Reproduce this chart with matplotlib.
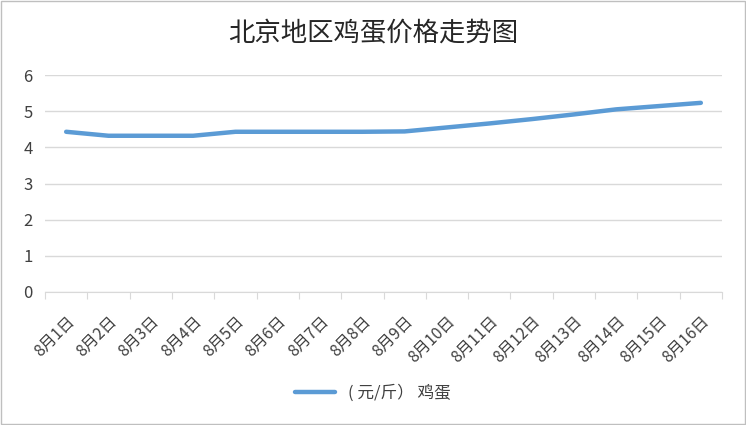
import matplotlib.pyplot as plt
import matplotlib.transforms as mtransforms
import numpy as np

plt.rcParams['font.family'] = ['Noto Sans CJK SC', 'DejaVu Sans']

days = ['8月%d日' % d for d in range(1, 17)]
prices = [4.43, 4.32, 4.32, 4.32, 4.43, 4.43, 4.43, 4.43,
          4.44, 4.55, 4.66, 4.78, 4.91, 5.05, 5.14, 5.23]
yticks = [0, 1, 2, 3, 4, 5, 6]

fig = plt.figure(figsize=(7.46, 4.25), dpi=100)
ax = fig.add_axes([45 / 746, 133 / 425, 677 / 746, 217 / 425])

x = np.arange(len(days))
ax.plot(x, prices, color='#5B9BD5', linewidth=3.2, solid_capstyle='round',
        solid_joinstyle='round', label='( 元/斤） 鸡蛋')

ax.set_xlim(-0.5, len(days) - 0.5)
ax.set_ylim(0, 6)
ax.set_yticks(yticks)
ax.grid(axis='y', color='#D9D9D9', linewidth=1)
ax.set_axisbelow(True)

ax.set_xticks(np.arange(-0.5, len(days), 1))
ax.set_xticks(x, minor=True)
ax.set_xticklabels([])
ax.set_xticklabels(days, minor=True, rotation=45, ha='right', va='top',
                   rotation_mode='anchor', fontsize=11.5, color='#404040')
shift = mtransforms.ScaledTranslation(6 / 100, 0, fig.dpi_scale_trans)
for lab in ax.get_xticklabels(minor=True):
    lab.set_transform(lab.get_transform() + shift)
ax.tick_params(axis='x', which='major', length=5, color='#D9D9D9', direction='out')
ax.tick_params(axis='x', which='minor', length=0, pad=15)
ax.tick_params(axis='y', length=0, labelsize=12, labelcolor='#404040', pad=9)

for s in ['top', 'right', 'left']:
    ax.spines[s].set_visible(False)
ax.spines['bottom'].set_color('#D9D9D9')

fig.suptitle('北京地区鸡蛋价格走势图', y=0.955, fontsize=19, color='#262626')
fig.legend(loc='center', bbox_to_anchor=(0.5, 32 / 425), frameon=False,
           fontsize=12, handlelength=2.4, labelcolor='#404040')

fig.patches.append(plt.Rectangle((0.002, 0.002), 0.996, 0.996, transform=fig.transFigure,
                                 fill=False, edgecolor='#BFBFBF', linewidth=1))

plt.savefig('out.png', dpi=100)
